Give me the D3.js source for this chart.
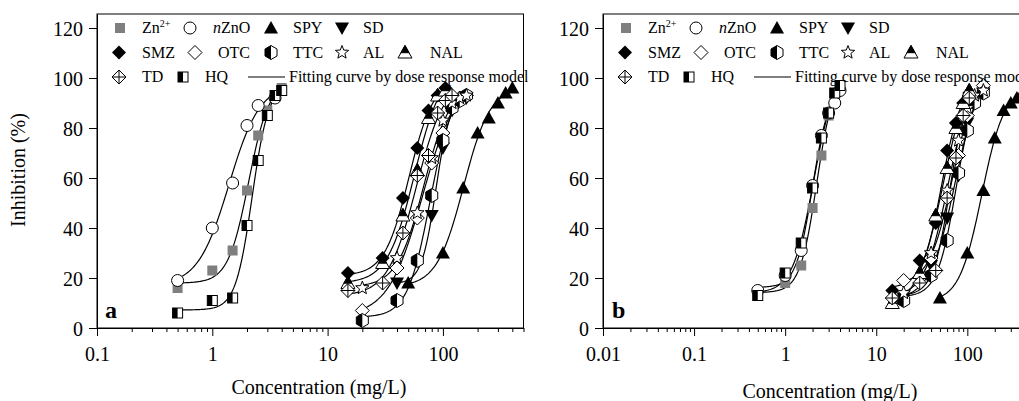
<!DOCTYPE html>
<html><head><meta charset="utf-8">
<script src="https://cdn.jsdelivr.net/npm/d3@7"></script>
<style>
body{margin:0;background:#fff;}
svg{display:block;}
svg text{font-family:'Liberation Serif','DejaVu Serif','Times New Roman',Times,serif !important;}
</style></head>
<body><svg id="c" width="1019" height="401"></svg>
<script>
// ---------------- DATA ----------------
// Panel a : [concentration (mg/L), inhibition (%)]
const a_Zn   = [[0.5,16],[1,23],[1.5,31],[2,55],[2.5,77],[3,87],[3.5,93],[4,96]];
const a_nZnO = [[0.5,19],[1,40],[1.5,58],[2,81],[2.5,89],[3.5,92]];
const a_HQ   = [[0.5,6],[1,11],[1.5,12],[2,41],[2.5,67],[3,85],[3.5,93],[4,95]];
const a_SMZ  = [[15,22],[30,28],[45,52],[60,72],[75,87],[90,93],[105,96]];
const a_TD   = [[15,15],[30,18],[45,38],[60,61],[75,69],[90,86],[105,91],[120,93]];
const a_NAL  = [[15,18],[30,26],[45,45],[60,63],[75,84],[90,93],[105,95]];
const a_AL   = [[20,16],[40,28],[60,46],[80,68],[100,83],[120,90],[140,92],[160,93]];
const a_OTC  = [[20,7],[40,24],[60,44],[80,66],[100,78],[120,88],[140,92],[160,93]];
const a_SD   = [[40,18],[80,45],[100,72],[120,87],[160,92]];
const a_TTC  = [[20,3],[40,11],[60,27],[80,53],[100,75],[120,88],[140,91],[160,93]];
const a_SPY  = [[50,18],[100,30],[150,56],[200,78],[250,84],[300,90],[350,94],[400,96]];
// Panel b
const b_Zn   = [[0.5,13],[1,18],[1.5,25],[2,48],[2.5,69],[3,85],[3.5,93],[4,96]];
const b_nZnO = [[0.5,15],[1,21],[1.5,31],[2,57],[2.5,77],[3,86],[3.5,90],[4,95]];
const b_HQ   = [[0.5,13],[1,22],[1.5,34],[2,56],[2.5,76],[3,86],[3.5,94],[4,97]];
const b_SMZ  = [[15,15],[30,27],[45,42],[60,71],[75,82],[90,90],[105,94]];
const b_TD   = [[15,12],[30,18],[45,23],[60,52],[75,68],[90,85],[105,92]];
const b_NAL  = [[15,10],[30,22],[45,45],[60,64],[75,80],[90,90],[105,95]];
const b_AL   = [[20,14],[40,30],[60,55],[80,75],[100,88],[120,93],[150,95]];
const b_OTC  = [[20,19],[40,28],[60,52],[80,69],[100,85],[120,92],[150,97]];
const b_SD   = [[20,12],[40,25],[60,44],[80,61],[100,82],[120,90],[150,94]];
const b_TTC  = [[20,11],[40,21],[60,35],[80,62],[100,79],[120,90],[150,94]];
const b_SPY  = [[50,12],[100,30],[150,55],[200,76],[250,87],[300,90],[350,92],[400,94]];

const seriesKeys = ["Zn","nZnO","SPY","SD","SMZ","OTC","TTC","AL","NAL","TD","HQ"];
const panelA = {Zn:a_Zn,nZnO:a_nZnO,SPY:a_SPY,SD:a_SD,SMZ:a_SMZ,OTC:a_OTC,TTC:a_TTC,AL:a_AL,NAL:a_NAL,TD:a_TD,HQ:a_HQ};
const panelB = {Zn:b_Zn,nZnO:b_nZnO,SPY:b_SPY,SD:b_SD,SMZ:b_SMZ,OTC:b_OTC,TTC:b_TTC,AL:b_AL,NAL:b_NAL,TD:b_TD,HQ:b_HQ};

const xTicksA = [0.1,1,10,100];
const xTicksB = [0.01,0.1,1,10,100];
const yTicks = [0,20,40,60,80,100,120];
const xTitle = "Concentration (mg/L)";
const yTitle = "Inhibition (%)";
const legendRows = [
  [["Zn","Zn","2+"],["nZnO","nZnO"],["SPY","SPY"],["SD","SD"]],
  [["SMZ","SMZ"],["OTC","OTC"],["TTC","TTC"],["AL","AL"],["NAL","NAL"]],
  [["TD","TD"],["HQ","HQ"]]
];
const fitLabel = "Fitting curve by dose response model";

// ---------------- MARKERS ----------------
function drawMarker(g, key){
  const s = "#000";
  switch(key){
    case "Zn": g.append("rect").attr("x",-5).attr("y",-5).attr("width",10).attr("height",10).attr("fill","#7f7f7f"); break;
    case "nZnO": g.append("circle").attr("r",6).attr("fill","#fff").attr("stroke",s); break;
    case "SPY": g.append("path").attr("d","M0,-7L7,5.5L-7,5.5Z").attr("fill",s); break;
    case "SD": g.append("path").attr("d","M0,7L7,-5.5L-7,-5.5Z").attr("fill",s); break;
    case "SMZ": g.append("path").attr("d","M0,-7L7,0L0,7L-7,0Z").attr("fill",s); break;
    case "OTC": g.append("path").attr("d","M0,-7L7,0L0,7L-7,0Z").attr("fill","#fff").attr("stroke",s); break;
    case "TTC":
      g.append("path").attr("d","M0,-7L6,-3.5L6,3.5L0,7L-6,3.5L-6,-3.5Z").attr("fill","#fff").attr("stroke",s);
      g.append("path").attr("d","M0,-7L0,7L-6,3.5L-6,-3.5Z").attr("fill",s); break;
    case "AL": {
      const pts=[]; for(let i=0;i<10;i++){const r=i%2?3:7;const a=-Math.PI/2+i*Math.PI/5;pts.push([r*Math.cos(a),r*Math.sin(a)]);}
      g.append("path").attr("d","M"+pts.join("L")+"Z").attr("fill","#fff").attr("stroke",s); break; }
    case "NAL":
      g.append("path").attr("d","M0,-7L7,5.5L-7,5.5Z").attr("fill","#fff").attr("stroke",s);
      g.append("path").attr("d","M0,-7L4,0.2L-4,0.2Z").attr("fill",s).attr("stroke",s); break;
    case "TD":
      g.append("path").attr("d","M0,-7L7,0L0,7L-7,0Z").attr("fill","#fff").attr("stroke",s);
      g.append("path").attr("d","M0,-7L0,7M-7,0L7,0").attr("stroke",s); break;
    case "HQ":
      g.append("rect").attr("x",-5).attr("y",-5).attr("width",10).attr("height",10).attr("fill","#fff").attr("stroke",s);
      g.append("rect").attr("x",-5).attr("y",-5).attr("width",5).attr("height",10).attr("fill",s); break;
  }
}

// ---------------- FIT (4-parameter dose response) ----------------
function nelderMead(f, x0, steps, iters){
  const n=x0.length;
  let sim=[x0.slice()];
  for(let i=0;i<n;i++){const x=x0.slice();x[i]+=steps[i];sim.push(x);}
  let vals=sim.map(f);
  const order=()=>{const idx=d3.range(n+1).sort((a,b)=>vals[a]-vals[b]);sim=idx.map(i=>sim[i]);vals=idx.map(i=>vals[i]);};
  for(let it=0;it<iters;it++){
    order();
    const cent=d3.range(n).map(j=>d3.mean(sim.slice(0,n),p=>p[j]));
    const w=sim[n];
    const xr=cent.map((c,j)=>c+(c-w[j])); const fr=f(xr);
    if(fr<vals[0]){const xe=cent.map((c,j)=>c+2*(xr[j]-c));const fe=f(xe);if(fe<fr){sim[n]=xe;vals[n]=fe;}else{sim[n]=xr;vals[n]=fr;}}
    else if(fr<vals[n-1]){sim[n]=xr;vals[n]=fr;}
    else{const xc=cent.map((c,j)=>c+0.5*(w[j]-c));const fc=f(xc);
      if(fc<vals[n]){sim[n]=xc;vals[n]=fc;}
      else{for(let i=1;i<=n;i++){sim[i]=sim[i].map((v,j)=>sim[0][j]+0.5*(v-sim[0][j]));vals[i]=f(sim[i]);}}}
  }
  order(); return sim[0];
}
function model(p,x){const [b,t,c,h]=p;return b+(t-b)/(1+Math.pow(10,(c-Math.log10(x))*h));}
function fit(pts){
  const ys=pts.map(p=>p[1]);
  const f=p=>{let s=0;for(const q of pts){const d=model(p,q[0])-q[1];s+=d*d;}
    const [b,t,c,h]=p; if(h<0.5)s+=1e4*(0.5-h)**2; if(h>8)s+=1e4*(h-8)**2;
    if(t>110)s+=100*(t-110)**2; if(b<-10)s+=100*(-10-b)**2; return s;};
  const x0=[d3.min(ys),d3.max(ys),d3.mean(pts,p=>Math.log10(p[0])),3];
  return nelderMead(f,x0,[5,5,0.2,1],800);
}

// ---------------- DRAW ----------------
const svg=d3.select("#c");
const y=d3.scaleLinear().domain([0,125.6]).range([328,14]);
const FONT="'Liberation Serif','DejaVu Serif','Times New Roman',serif";

function panel(cfg){
  const {data,xDomain,xRange,xTicks,label,labelX,titleX,titleY}=cfg;
  const x=d3.scaleLog().domain(xDomain).range(xRange);
  const g=svg.append("g");
  g.append("rect").attr("x",xRange[0]).attr("y",y.range()[1]).attr("width",xRange[1]-xRange[0]).attr("height",y.range()[0]-y.range()[1])
    .attr("fill","none").attr("stroke","#000").attr("stroke-width",1);
  const minor=[]; for(let e=Math.log10(xDomain[0]);e<Math.log10(xDomain[1]);e++){for(let k=2;k<=9;k++){const v=k*Math.pow(10,e);if(v<=xDomain[1]*1.0001)minor.push(v);}}
  g.append("g").attr("transform","translate(0,328)").call(d3.axisBottom(x).tickValues(minor).tickSize(4).tickSizeOuter(0).tickFormat(""))
    .call(s=>s.select(".domain").remove());
  const xa=g.append("g").attr("transform","translate(0,328)").call(d3.axisBottom(x).tickValues(xTicks).tickSize(8).tickSizeOuter(0).tickFormat(d=>String(d)));
  xa.attr("font-family",FONT).attr("font-size",20);
  xa.selectAll("text").attr("y",33).attr("dy",0).attr("fill","#000");
  const ya=g.append("g").attr("transform",`translate(${xRange[0]},0)`).call(d3.axisLeft(y).tickValues(yTicks).tickSize(8).tickSizeOuter(0).tickPadding(6));
  ya.attr("font-family",FONT).attr("font-size",20);
  ya.selectAll("text").attr("fill","#000").attr("dy","0.35em");
  const cid="clip"+label;
  svg.append("clipPath").attr("id",cid).append("rect").attr("x",xRange[0]).attr("y",y.range()[1]).attr("width",xRange[1]-xRange[0]).attr("height",y.range()[0]-y.range()[1]);
  const plot=g.append("g").attr("clip-path",`url(#${cid})`);
  const line=d3.line().x(d=>x(d[0])).y(d=>y(d[1]));
  for(const k of seriesKeys){
    const pts=data[k]; const p=fit(pts);
    const lo=Math.log10(pts[0][0]), hi=Math.log10(pts[pts.length-1][0]);
    const cv=d3.range(0,101).map(i=>{const xv=Math.pow(10,lo+(hi-lo)*i/100);return [xv,model(p,xv)];});
    plot.append("path").attr("d",line(cv)).attr("fill","none").attr("stroke","#000").attr("stroke-width",1.2);
  }
  for(const k of seriesKeys){
    for(const d of data[k]){
      drawMarker(plot.append("g").attr("transform",`translate(${x(d[0])},${y(d[1])})`),k);
    }
  }
  const lx0=xRange[0];
  const rowY=[28,52.5,77];
  const rowsX=[[[23,45],[93,116],[174,196],[245,266]],[[22,45],[98,121],[174,196],[245,266],[308,333]],[[22,45],[86,108]]];
  const lg=g.append("g").attr("font-family",FONT).attr("font-size",16);
  legendRows.forEach((row,ri)=>{
    row.forEach((item,ci)=>{
      const [mx,tx]=rowsX[ri][ci];
      drawMarker(lg.append("g").attr("transform",`translate(${lx0+mx},${rowY[ri]})`),item[0]);
      const t=lg.append("text").attr("x",lx0+tx).attr("y",rowY[ri]+5);
      if(item[0]==="nZnO"){t.append("tspan").attr("font-style","italic").text("n");t.append("tspan").text("ZnO");}
      else if(item[2]){t.append("tspan").text(item[1]);t.append("tspan").attr("font-size",10).attr("dy",-6).text(item[2]);}
      else t.text(item[1]);
    });
  });
  lg.append("line").attr("x1",lx0+151).attr("x2",lx0+188).attr("y1",rowY[2]).attr("y2",rowY[2]).attr("stroke","#000").attr("stroke-width",1.2);
  lg.append("text").attr("x",lx0+192).attr("y",rowY[2]+5).text(fitLabel);
  g.append("text").attr("x",labelX).attr("y",318).attr("font-family",FONT).attr("font-size",24).attr("font-weight","bold").text(label);
  g.append("text").attr("x",titleX).attr("y",titleY).attr("text-anchor","middle").attr("font-family",FONT).attr("font-size",20).text(xTitle);
}

panel({data:panelA,xDomain:[0.1,500],xRange:[97,523.5],xTicks:xTicksA,label:"a",labelX:105,titleX:319,titleY:394});
panel({data:panelB,xDomain:[0.01,500],xRange:[603,1031],xTicks:xTicksB,label:"b",labelX:612,titleX:830,titleY:398});

svg.append("text").attr("transform","translate(25,170) rotate(-90)").attr("text-anchor","middle").attr("font-family",FONT).attr("font-size",20).text(yTitle);
</script></body></html>
